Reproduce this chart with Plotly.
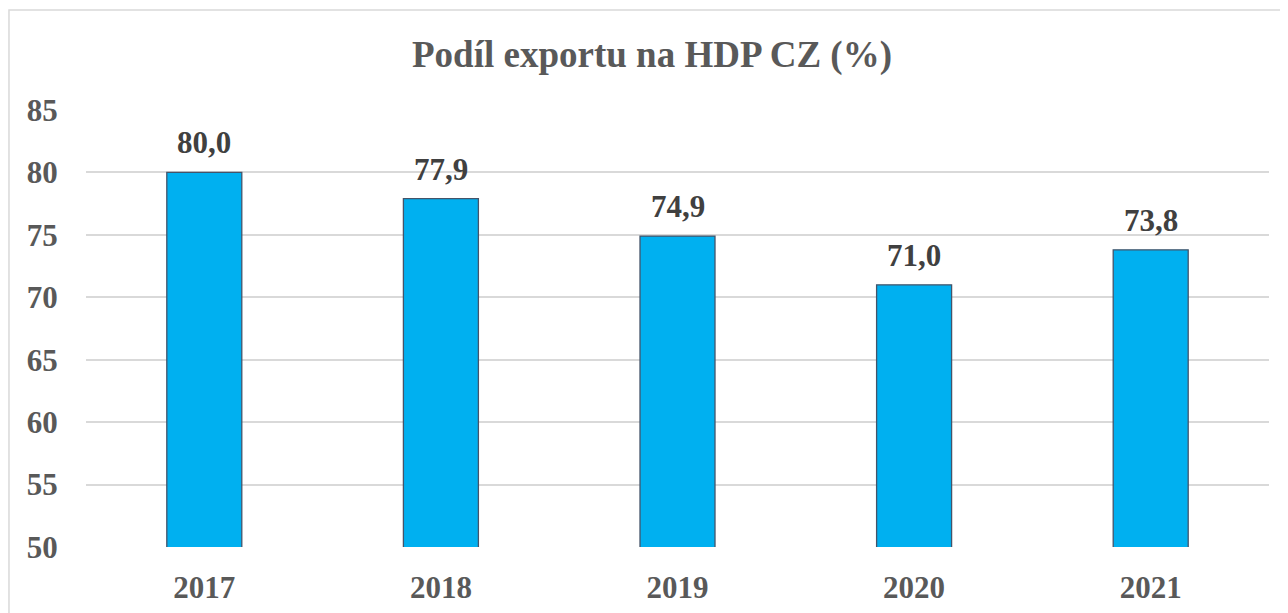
import plotly.graph_objects as go

years = ["2017", "2018", "2019", "2020", "2021"]
values = [80.0, 77.9, 74.9, 71.0, 73.8]
labels = ["80,0", "77,9", "74,9", "71,0", "73,8"]
y_ticks = [50, 55, 60, 65, 70, 75, 80, 85]

FONT = "Liberation Serif, Times New Roman, serif"
pos = list(range(len(years)))

fig = go.Figure()
fig.add_trace(go.Bar(
    x=pos, y=values, width=0.317,
    marker=dict(color="#00B0F0", line=dict(color="#44546A", width=1.3)),
    hoverinfo="skip",
))

for i, v, lab in zip(pos, values, labels):
    fig.add_annotation(
        x=i, y=v, text="<b>%s</b>" % lab, showarrow=False,
        xref="x", yref="y",
        yanchor="bottom", yshift=10,
        font=dict(family=FONT, size=31, color="#404040"),
    )

# chart area border (only top and left edges fall inside the view)
fig.add_shape(type="rect", xref="paper", yref="paper",
              x0=-0.0651, x1=1.2, y0=-0.4, y1=1.2288,
              line=dict(color="#D9D9D9", width=1.5),
              fillcolor="rgba(0,0,0,0)", layer="below")

fig.update_layout(
    width=1288, height=613,
    margin=dict(l=78, r=27, t=102, b=74, autoexpand=False),
    paper_bgcolor="white", plot_bgcolor="white",
    showlegend=False,
    title=dict(
        text="<b>Podíl exportu na HDP CZ (%)</b>",
        x=0.5, xanchor="center", xref="container",
        y=1 - 46 / 613, yanchor="middle", yref="container",
        font=dict(family=FONT, size=37, color="#595959"),
    ),
    xaxis=dict(
        range=[-0.5, len(years) - 0.5], autorange=False,
        tickvals=pos, ticktext=["<b>%s</b>" % y for y in years],
        showgrid=False, showline=False, zeroline=False,
        ticks="outside", ticklen=13, tickcolor="rgba(0,0,0,0)",
        tickfont=dict(family=FONT, size=31, color="#595959"),
        tickangle=0, automargin=False,
    ),
    yaxis=dict(
        range=[50, 85], autorange=False, tickvals=y_ticks,
        ticktext=["<b>%d</b>" % t for t in y_ticks],
        showgrid=True, gridcolor="#D9D9D9", gridwidth=1.5,
        zeroline=False, showline=False,
        ticks="outside", ticklen=21, tickcolor="rgba(0,0,0,0)",
        tickfont=dict(family=FONT, size=31, color="#595959"),
        automargin=False,
    ),
)

fig.write_html("out.html")
